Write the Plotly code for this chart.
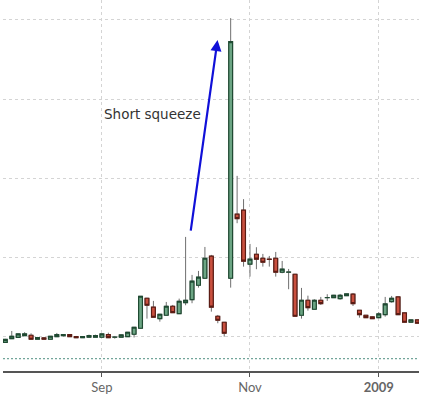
import plotly.graph_objects as go

# candle dates (trading days shown)
dates = [
    "2008-08-01", "2008-08-04", "2008-08-05", "2008-08-07", "2008-08-08",
    "2008-08-11", "2008-08-13", "2008-08-14", "2008-08-18", "2008-08-19",
    "2008-08-21", "2008-08-22", "2008-08-25", "2008-08-27", "2008-08-29",
    "2008-09-01", "2008-09-03", "2008-09-05", "2008-09-09", "2008-09-11",
    "2008-09-15", "2008-09-17", "2008-09-19", "2008-09-23", "2008-09-25",
    "2008-09-29", "2008-10-01", "2008-10-03", "2008-10-07", "2008-10-09",
    "2008-10-13", "2008-10-15", "2008-10-17", "2008-10-21", "2008-10-24",
    "2008-10-28", "2008-10-29", "2008-10-30", "2008-11-03", "2008-11-05",
    "2008-11-07", "2008-11-11", "2008-11-13", "2008-11-17", "2008-11-19",
    "2008-11-21", "2008-11-25", "2008-11-27", "2008-12-01", "2008-12-03",
    "2008-12-05", "2008-12-09", "2008-12-11", "2008-12-15", "2008-12-17",
    "2008-12-19", "2008-12-23", "2008-12-30", "2009-01-02", "2009-01-06",
    "2009-01-08", "2009-01-12", "2009-01-14", "2009-01-16", "2009-01-20",
]

open_ = [
    186.0, 195.6, 199.0, 203.2, 204.2, 194.1, 197.4, 194.1, 200.7, 203.2,
    205.7, 200.7, 198.1, 199.1, 199.1, 199.1, 205.7, 199.1, 199.1, 200.7,
    206.7, 221.9, 297.6, 274.9, 246.1, 254.7, 277.4, 258.7, 286.5, 294.0,
    330.4, 348.0, 403.6, 252.1, 237.0, 348.0, 509.6, 519.7, 383.4, 408.6,
    398.5, 396.0, 398.5, 363.2, 363.2, 358.1, 254.7, 292.5, 269.8, 292.5,
    299.1, 299.1, 296.6, 304.1, 307.7, 267.3, 254.7, 250.4, 248.6, 256.2,
    289.0, 300.9, 260.5, 237.0, 242.8,
]
high = [
    195.0, 215.0, 208.0, 212.0, 209.0, 200.0, 198.5, 202.0, 210.0, 206.0,
    206.0, 202.4, 201.5, 205.7, 205.7, 208.0, 210.7, 202.4, 205.5, 212.5,
    225.0, 303.0, 298.5, 290.8, 258.0, 288.2, 280.7, 296.6, 452.3, 356.4,
    366.5, 427.0, 406.9, 255.4, 237.5, 1004.3, 606.3, 547.5, 434.6, 426.3,
    409.4, 404.3, 414.4, 391.7, 371.5, 359.0, 323.6, 304.1, 295.0, 300.9,
    307.7, 306.0, 308.4, 308.8, 310.9, 268.0, 255.3, 251.0, 262.2, 300.9,
    303.4, 301.5, 261.0, 243.3, 243.3,
]
low = [
    184.8, 195.0, 198.5, 203.0, 194.0, 194.0, 193.5, 194.0, 200.0, 201.0,
    200.5, 198.0, 198.0, 199.0, 199.0, 199.0, 198.0, 195.6, 199.0, 200.5,
    198.6, 221.0, 246.1, 249.0, 238.5, 254.0, 260.5, 258.0, 279.9, 285.0,
    324.3, 347.0, 263.7, 234.5, 200.7, 324.3, 486.9, 377.3, 352.1, 370.8,
    377.3, 377.3, 352.1, 360.7, 320.3, 251.0, 246.1, 266.3, 269.0, 280.7,
    290.8, 298.5, 294.0, 303.8, 278.0, 248.6, 248.0, 245.5, 248.0, 251.1,
    286.5, 255.5, 236.5, 236.5, 234.0,
]
close = [
    193.6, 201.7, 207.5, 207.5, 194.1, 198.1, 194.1, 201.7, 205.7, 205.7,
    200.7, 198.1, 200.7, 203.2, 203.2, 207.5, 198.1, 199.4, 204.9, 211.8,
    224.4, 302.6, 279.9, 249.6, 257.2, 277.4, 261.2, 290.0, 292.5, 340.5,
    350.6, 398.5, 274.9, 242.0, 209.2, 945.2, 498.5, 391.0, 396.0, 396.0,
    388.4, 395.5, 363.2, 370.8, 363.5, 252.1, 292.5, 273.8, 292.5, 284.0,
    299.4, 305.1, 305.1, 308.4, 284.0, 256.2, 248.6, 246.1, 258.0, 283.2,
    297.6, 256.2, 237.0, 242.8, 234.5,
]

tick_vals = ["2008-09-01", "2008-11-03", "2009-01-02"]
tick_text = ["Sep", "Nov", "<b>2009</b>"]
grid_levels = [200, 400, 600, 800, 1000]
baseline = 145

body_top = [max(o, c) for o, c in zip(open_, close)]
body_bot = [min(o, c) for o, c in zip(open_, close)]

fig = go.Figure()

# wicks (gray)
fig.add_trace(go.Candlestick(
    x=dates, open=open_, high=high, low=low, close=close,
    increasing=dict(line=dict(color="#707070", width=1), fillcolor="#6ca584"),
    decreasing=dict(line=dict(color="#707070", width=1), fillcolor="#c9503f"),
    whiskerwidth=0, hoverinfo="skip", showlegend=False,
))

# bodies with dark outlines
fig.add_trace(go.Candlestick(
    x=dates, open=open_, high=body_top, low=body_bot, close=close,
    increasing=dict(line=dict(color="#1f4a32", width=1.2), fillcolor="#6ca584"),
    decreasing=dict(line=dict(color="#5c1c14", width=1.2), fillcolor="#c9503f"),
    whiskerwidth=0, showlegend=False,
))

fig.add_hline(y=baseline, line=dict(color="#4f8f80", width=1, dash="2px,2px"))

fig.add_annotation(
    x=0.5157, y=0.892, xref="paper", yref="paper",
    ax=-27, ay=192, axref="pixel", ayref="pixel",
    showarrow=True, arrowhead=2, arrowsize=1, arrowwidth=2.2, arrowcolor="#1010d8",
    text="",
)
fig.add_annotation(
    x=0.237, y=0.693, xref="paper", yref="paper",
    text="Short squeeze", showarrow=False, xanchor="left", yanchor="middle",
    font=dict(family="DejaVu Sans", size=13.5, color="#333333"),
)

fig.update_layout(
    width=424, height=402,
    margin=dict(l=3, r=5, t=0, b=31),
    paper_bgcolor="white", plot_bgcolor="white",
    font=dict(family="Lato", size=13, color="#666666"),
    boxgap=0.15,
    xaxis=dict(
        type="category", rangeslider=dict(visible=False),
        range=[-0.36, 64.25],
        tickmode="array", tickvals=tick_vals, ticktext=tick_text,
        ticks="outside", ticklen=4, tickcolor="#555555",
        showline=True, linecolor="#555555", linewidth=1.5,
        showgrid=True, gridcolor="#d4d4d4", griddash="3px,3px",
        tickfont=dict(size=13, color="#666666"),
    ),
    yaxis=dict(
        range=[114, 1050],
        tickmode="array", tickvals=grid_levels,
        showticklabels=False, zeroline=False, showline=False,
        showgrid=True, gridcolor="#d4d4d4", griddash="3px,3px",
    ),
)

fig.write_html("out.html", config={"displayModeBar": False},
               post_script="document.body.style.margin='0';")
